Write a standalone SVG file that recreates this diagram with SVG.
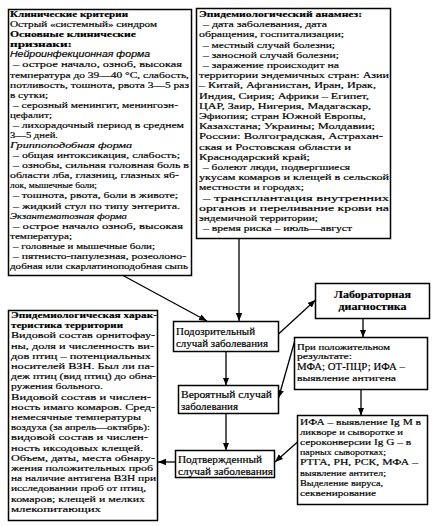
<svg xmlns="http://www.w3.org/2000/svg" width="438" height="526" viewBox="0 0 438 526">
<defs>
<marker id="ah" viewBox="0 0 10 10" refX="10" refY="5" markerWidth="8" markerHeight="8" markerUnits="userSpaceOnUse" orient="auto">
<path d="M0,1 L10,5 L0,9 z" fill="#000"/>
</marker>
<style>
.box{fill:#fff;stroke:#000;stroke-width:1.5}
.t{font-family:"Liberation Serif","Times New Roman",serif;font-size:9px;fill:#000;stroke:#000;stroke-width:0.18}
.m{font-size:10px}
.sm{font-size:8px}
.b{font-weight:bold}
.i{font-style:italic}
.s{font-family:"Liberation Sans",Arial,sans-serif}
.c{text-anchor:middle}
.ln{stroke:#000;stroke-width:1.3;fill:none;marker-end:url(#ah)}
</style>
</defs>
<rect width="438" height="526" fill="#fff"/>

<g id="connectors">
<line class="ln" x1="239" y1="238.5" x2="239" y2="321"/>
<line class="ln" x1="123" y1="275.5" x2="207" y2="321"/>
<line class="ln" x1="226" y1="351.5" x2="226" y2="385.5"/>
<line class="ln" x1="226" y1="413.5" x2="226" y2="450.5"/>
<line class="ln" x1="175.5" y1="462" x2="158" y2="462"/>
<line class="ln" x1="278.5" y1="334" x2="315.5" y2="300"/>
<line class="ln" x1="363" y1="318.5" x2="363" y2="337.5"/>
<line class="ln" x1="295" y1="340" x2="278.5" y2="398"/>
<line class="ln" x1="361" y1="389.5" x2="361" y2="415.5"/>
<line class="ln" x1="297.5" y1="442" x2="275" y2="462"/>
</g>

<g id="clinical">
<rect class="box" x="8.5" y="9.5" width="183" height="266"/>
<text class="t b" x="10" y="17" textLength="118" lengthAdjust="spacingAndGlyphs">Клинические критерии</text>
<text class="t" x="10" y="27.1" textLength="147" lengthAdjust="spacingAndGlyphs">Острый «системный» синдром</text>
<text class="t b" x="10" y="37.2" textLength="126" lengthAdjust="spacingAndGlyphs">Основные клинические</text>
<text class="t b" x="10" y="47.2" textLength="62" lengthAdjust="spacingAndGlyphs">признаки:</text>
<text class="t i s" x="10" y="57.3" textLength="140" lengthAdjust="spacingAndGlyphs">Нейроинфекционная  форма</text>
<text class="t" x="13" y="67.4" textLength="169" lengthAdjust="spacingAndGlyphs">– острое начало, озноб, высокая</text>
<text class="t" x="10" y="77.5" textLength="179" lengthAdjust="spacingAndGlyphs">температура до 39—40 °С, слабость,</text>
<text class="t" x="10" y="87.6" textLength="179" lengthAdjust="spacingAndGlyphs">потливость, тошнота, рвота 3—5 раз</text>
<text class="t" x="10" y="97.6" textLength="38" lengthAdjust="spacingAndGlyphs">в сутки;</text>
<text class="t" x="13" y="107.7" textLength="165" lengthAdjust="spacingAndGlyphs">– серозный менингит, менингоэн-</text>
<text class="t" x="10" y="117.8" textLength="42" lengthAdjust="spacingAndGlyphs">цефалит;</text>
<text class="t" x="13" y="127.9" textLength="171" lengthAdjust="spacingAndGlyphs">– лихорадочный период в среднем</text>
<text class="t" x="10" y="138" textLength="48" lengthAdjust="spacingAndGlyphs">3—5 дней.</text>
<text class="t i" x="10" y="148" textLength="122" lengthAdjust="spacingAndGlyphs">Гриппоподобная форма</text>
<text class="t" x="13" y="158.1" textLength="167" lengthAdjust="spacingAndGlyphs">– общая интоксикация, слабость;</text>
<text class="t" x="13" y="168.2" textLength="176" lengthAdjust="spacingAndGlyphs">– ознобы, сильная головная боль в</text>
<text class="t" x="10" y="178.3" textLength="169" lengthAdjust="spacingAndGlyphs">области лба, глазниц, глазных яб-</text>
<text class="t" x="10" y="188.4" textLength="87" lengthAdjust="spacingAndGlyphs">лок, мышечные боли;</text>
<text class="t" x="13" y="198.4" textLength="165" lengthAdjust="spacingAndGlyphs">– тошнота, рвота, боли в животе;</text>
<text class="t" x="13" y="208.5" textLength="167" lengthAdjust="spacingAndGlyphs">– жидкий стул по типу энтерита.</text>
<text class="t i" x="10" y="218.6" textLength="117" lengthAdjust="spacingAndGlyphs">Экзантематозная форма</text>
<text class="t" x="13" y="228.7" textLength="170" lengthAdjust="spacingAndGlyphs">– острое начало  озноб, высокая</text>
<text class="t" x="10" y="238.8" textLength="62" lengthAdjust="spacingAndGlyphs">температура;</text>
<text class="t" x="13" y="248.8" textLength="142" lengthAdjust="spacingAndGlyphs">– головные и мышечные боли;</text>
<text class="t" x="13" y="258.9" textLength="173" lengthAdjust="spacingAndGlyphs">– пятнисто-папулезная, розеолоно-</text>
<text class="t" x="10" y="269" textLength="178" lengthAdjust="spacingAndGlyphs">добная или скарлатиноподобная сыпь</text>
</g>

<g id="anamnesis">
<rect class="box" x="196.5" y="8.5" width="194" height="230"/>
<text class="t b" x="199" y="17" textLength="163" lengthAdjust="spacingAndGlyphs">Эпидемиологический анамнез:</text>
<text class="t" x="203" y="27.2" textLength="124" lengthAdjust="spacingAndGlyphs">– дата заболевания, дата</text>
<text class="t" x="199" y="37.4" textLength="145" lengthAdjust="spacingAndGlyphs">обращения,  госпитализации;</text>
<text class="t" x="203" y="47.6" textLength="132" lengthAdjust="spacingAndGlyphs">– местный случай болезни;</text>
<text class="t" x="203" y="57.8" textLength="136" lengthAdjust="spacingAndGlyphs">– заносной случай болезни;</text>
<text class="t" x="203" y="68" textLength="136" lengthAdjust="spacingAndGlyphs">– заражение происходит на</text>
<text class="t" x="199" y="78.2" textLength="190" lengthAdjust="spacingAndGlyphs">территории эндемичных стран: Азии</text>
<text class="t" x="199" y="88.4" textLength="177" lengthAdjust="spacingAndGlyphs">– Китай, Афганистан, Иран, Ирак,</text>
<text class="t" x="199" y="98.6" textLength="170" lengthAdjust="spacingAndGlyphs">Индия, Сирия; Африки – Египет,</text>
<text class="t" x="199" y="108.8" textLength="172" lengthAdjust="spacingAndGlyphs">ЦАР, Заир, Нигерия, Мадагаскар,</text>
<text class="t" x="199" y="119" textLength="167" lengthAdjust="spacingAndGlyphs">Эфиопия; стран Южной Европы,</text>
<text class="t" x="199" y="129.2" textLength="176" lengthAdjust="spacingAndGlyphs">Казахстана; Украины; Молдавии;</text>
<text class="t" x="199" y="139.4" textLength="184" lengthAdjust="spacingAndGlyphs">России: Волгоградская, Астрахан-</text>
<text class="t" x="199" y="149.6" textLength="152" lengthAdjust="spacingAndGlyphs">ская и Ростовская области и</text>
<text class="t" x="199" y="159.8" textLength="111" lengthAdjust="spacingAndGlyphs">Краснодарский край;</text>
<text class="t" x="203" y="170" textLength="147" lengthAdjust="spacingAndGlyphs">– болеют люди, подвергшиеся</text>
<text class="t" x="199" y="180.2" textLength="190" lengthAdjust="spacingAndGlyphs">укусам комаров и клещей в сельской</text>
<text class="t" x="199" y="190.4" textLength="105" lengthAdjust="spacingAndGlyphs">местности и городах;</text>
<text class="t" x="203" y="200.6" textLength="186" lengthAdjust="spacingAndGlyphs">– трансплантация           внутренних</text>
<text class="t" x="199" y="210.8" textLength="190" lengthAdjust="spacingAndGlyphs">органов  и  переливание  крови  на</text>
<text class="t" x="199" y="221" textLength="119" lengthAdjust="spacingAndGlyphs">эндемичной территории;</text>
<text class="t" x="203" y="231.2" textLength="149" lengthAdjust="spacingAndGlyphs">– время риска – июль—август</text>
</g>

<g id="territory">
<rect class="box" x="8.5" y="310.5" width="149" height="210"/>
<text class="t b" x="11" y="318" textLength="146" lengthAdjust="spacingAndGlyphs">Эпидемиологическая  харак-</text>
<text class="t b" x="11" y="328.2" textLength="112" lengthAdjust="spacingAndGlyphs">теристика территории</text>
<text class="t" x="11" y="338.4" textLength="144" lengthAdjust="spacingAndGlyphs">Видовой состав орнитофау-</text>
<text class="t" x="11" y="348.6" textLength="143" lengthAdjust="spacingAndGlyphs">ны, доля и численность ви-</text>
<text class="t" x="11" y="358.8" textLength="140" lengthAdjust="spacingAndGlyphs">дов птиц – потенциальных</text>
<text class="t" x="11" y="369" textLength="143" lengthAdjust="spacingAndGlyphs">носителей ВЗН. Был ли па-</text>
<text class="t" x="11" y="379.2" textLength="145" lengthAdjust="spacingAndGlyphs">деж птиц (вид птиц) до обна-</text>
<text class="t" x="11" y="389.4" textLength="92" lengthAdjust="spacingAndGlyphs">ружения больного.</text>
<text class="t" x="11" y="399.6" textLength="140" lengthAdjust="spacingAndGlyphs">Видовой состав и числен-</text>
<text class="t" x="11" y="409.8" textLength="144" lengthAdjust="spacingAndGlyphs">ность имаго комаров. Сред-</text>
<text class="t" x="11" y="420" textLength="130" lengthAdjust="spacingAndGlyphs">немесячные температуры</text>
<text class="t" x="11" y="430.2" textLength="139" lengthAdjust="spacingAndGlyphs">воздуха (за апрель—октябрь):</text>
<text class="t" x="11" y="440.4" textLength="137" lengthAdjust="spacingAndGlyphs">видовой состав и числен-</text>
<text class="t" x="11" y="450.6" textLength="132" lengthAdjust="spacingAndGlyphs">ность иксодовых клещей.</text>
<text class="t" x="11" y="460.8" textLength="144" lengthAdjust="spacingAndGlyphs">Объем, даты, места обнару-</text>
<text class="t" x="11" y="471" textLength="142" lengthAdjust="spacingAndGlyphs">жения положительных проб</text>
<text class="t" x="11" y="481.2" textLength="145" lengthAdjust="spacingAndGlyphs">на наличие антигена ВЗН при</text>
<text class="t" x="11" y="491.4" textLength="135" lengthAdjust="spacingAndGlyphs">исследовании проб от птиц,</text>
<text class="t" x="11" y="501.6" textLength="134" lengthAdjust="spacingAndGlyphs">комаров; клещей и мелких</text>
<text class="t" x="11" y="511.8" textLength="90" lengthAdjust="spacingAndGlyphs">млекопитающих</text>
</g>

<g id="suspected">
<rect class="box" x="173.5" y="321.5" width="105" height="30"/>
<text class="t m" x="176" y="335" textLength="79" lengthAdjust="spacingAndGlyphs">Подозрительный</text>
<text class="t m" x="176" y="347" textLength="92" lengthAdjust="spacingAndGlyphs">случай заболевания</text>
</g>

<g id="probable">
<rect class="box" x="178.5" y="385.5" width="100" height="28"/>
<text class="t m" x="181" y="398" textLength="91" lengthAdjust="spacingAndGlyphs">Вероятный случай</text>
<text class="t m" x="181" y="410" textLength="57" lengthAdjust="spacingAndGlyphs">заболевания</text>
</g>

<g id="confirmed">
<rect class="box" x="175.5" y="450.5" width="99" height="27"/>
<text class="t m" x="178" y="462.5" textLength="84" lengthAdjust="spacingAndGlyphs">Подтвержденный</text>
<text class="t m" x="178" y="474.5" textLength="95" lengthAdjust="spacingAndGlyphs">случай заболевания</text>
</g>

<g id="lab">
<rect class="box" x="315.5" y="283.5" width="114" height="35"/>
<text class="t m b c" x="372.5" y="298" textLength="77" lengthAdjust="spacingAndGlyphs">Лабораторная</text>
<text class="t m b c" x="372.5" y="310" textLength="68" lengthAdjust="spacingAndGlyphs">диагностика</text>
</g>

<g id="positive">
<rect class="box" x="294.5" y="337.5" width="133" height="52"/>
<text class="t sm" x="297" y="350" textLength="93" lengthAdjust="spacingAndGlyphs">При положительном</text>
<text class="t sm" x="297" y="359" textLength="55" lengthAdjust="spacingAndGlyphs">результате:</text>
<text class="t m" x="297" y="370" textLength="108" lengthAdjust="spacingAndGlyphs">МФА; ОТ-ПЦР; ИФА –</text>
<text class="t" x="297" y="381" textLength="99" lengthAdjust="spacingAndGlyphs">выявление антигена</text>
</g>

<g id="serology">
<rect class="box" x="297.5" y="415.5" width="130" height="89"/>
<text class="t" x="300" y="425" textLength="121" lengthAdjust="spacingAndGlyphs">ИФА – выявление Ig M в</text>
<text class="t" x="300" y="435.1" textLength="103" lengthAdjust="spacingAndGlyphs">ликворе и сыворотке и</text>
<text class="t" x="300" y="445.2" textLength="111" lengthAdjust="spacingAndGlyphs">сероконверсии Ig G – в</text>
<text class="t" x="300" y="455.3" textLength="86" lengthAdjust="spacingAndGlyphs">парных сыворотках;</text>
<text class="t" x="300" y="465.4" textLength="118" lengthAdjust="spacingAndGlyphs">РТГА, РН, РСК, МФА –</text>
<text class="t" x="300" y="475.5" textLength="86" lengthAdjust="spacingAndGlyphs">выявление антител;</text>
<text class="t" x="300" y="485.6" textLength="83" lengthAdjust="spacingAndGlyphs">Выделение вируса,</text>
<text class="t" x="300" y="495.7" textLength="76" lengthAdjust="spacingAndGlyphs">секвенирование</text>
</g>
</svg>
